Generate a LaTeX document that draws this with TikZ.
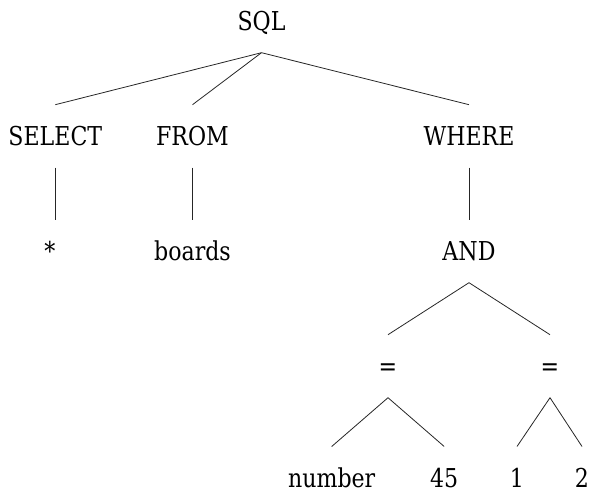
\documentclass[tikz,border=0pt]{standalone}
\usepackage{fontspec}
\setmainfont{DejaVu Serif}[FakeStretch=0.85]
\usepackage{tikz}
\usetikzlibrary{calc}

\begin{document}
\begin{tikzpicture}[x=1pt,y=-1pt,
    word/.style={font=\fontsize{26}{30}\selectfont,text height=19pt,text depth=0pt,
      inner xsep=0pt,inner ysep=22pt,outer sep=0pt,anchor=base},
    leaf/.style={word,text depth=-22pt},
    branch/.style={draw=black!85,line width=0.8pt}]
    \useasboundingbox (0,0) rectangle (589,494);
    % root and first level
    \node [word] (sql) at (261.5,30.7) {SQL};
    \node [word] (select) at (55.3,145.7) {SELECT};
    \node [word] (from) at (192.5,145.7) {FROM};
    \node [word] (where) at (469,145.7) {WHERE};
    % second level
    \node [word] (star) at (50,260.7) {*};
    \node [word] (boards) at (192.5,260.7) {boards};
    \node [word] (and) at (469,260.7) {AND};
    % comparisons
    \node [word] (eqa) at (388,375.7) {=};
    \node [word] (eqb) at (550,375.7) {=};
    \node [leaf] (number) at (331.7,487.5) {number};
    \node [leaf] (ff) at (444.2,487.5) {45};
    \node [leaf] (one) at (517,487.5) {1};
    \node [leaf] (two) at (582,487.5) {2};
    \foreach \a/\b in {sql/select,sql/from,sql/where,from/boards,where/and,
        and/eqa,and/eqb,eqa/number,eqa/ff,eqb/one,eqb/two}
      \draw [branch] (\a.south) -- (\b.north);
    \draw [branch] (select.south) -- (select.south |- star.north);
  \end{tikzpicture}
\end{document}
